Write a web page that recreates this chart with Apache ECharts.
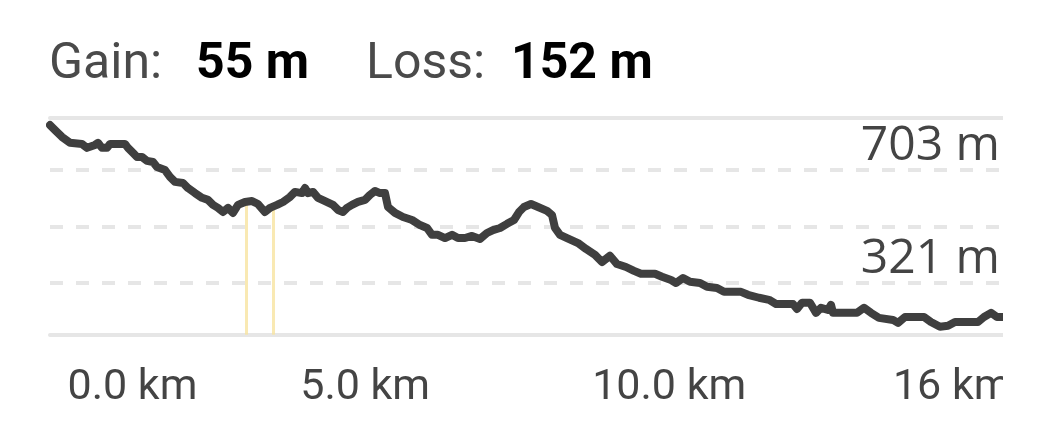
<!DOCTYPE html>
<html>
<head>
<meta charset="utf-8">
<script src="https://cdn.jsdelivr.net/npm/echarts@6/dist/echarts.min.js"></script>
<style>
html,body{margin:0;padding:0;background:#ffffff;}
#chart{width:1003px;height:440px;overflow:hidden;}
</style>
</head>
<body>
<div id="chart"></div>
<script>
// ---- data ----
const distanceKm = [0, 0.086, 0.205, 0.342, 0.547, 0.633, 0.667, 0.770, 0.821, 0.889, 0.975, 1.026, 1.283, 1.334, 1.420, 1.488, 1.574, 1.659, 1.762, 1.830, 1.967, 2.052, 2.138, 2.275, 2.360, 2.480, 2.600, 2.702, 2.788, 2.873, 2.959, 3.045, 3.130, 3.216, 3.335, 3.455, 3.558, 3.677, 3.763, 3.883, 3.985, 4.105, 4.190, 4.310, 4.362, 4.413, 4.498, 4.584, 4.704, 4.840, 4.926, 5.011, 5.080, 5.165, 5.268, 5.388, 5.473, 5.559, 5.644, 5.730, 5.781, 5.901, 6.038, 6.192, 6.328, 6.448, 6.534, 6.636, 6.756, 6.876, 6.978, 7.098, 7.218, 7.355, 7.474, 7.577, 7.697, 7.817, 7.936, 8.022, 8.107, 8.227, 8.347, 8.501, 8.586, 8.637, 8.723, 8.843, 9.031, 9.168, 9.322, 9.441, 9.578, 9.698, 9.852, 9.989, 10.108, 10.348, 10.468, 10.622, 10.707, 10.827, 10.947, 11.118, 11.237, 11.408, 11.528, 11.819, 11.939, 12.127, 12.298, 12.418, 12.708, 12.777, 12.862, 12.999, 13.102, 13.187, 13.307, 13.358, 13.392, 13.598, 13.803, 13.923, 14.042, 14.179, 14.419, 14.504, 14.624, 14.949, 15.068, 15.222, 15.359, 15.479, 15.872, 15.975, 16.095, 16.197, 16.300];
const elevationM = [855, 838, 815, 795, 791, 778, 781, 788, 795, 778, 778, 791, 791, 778, 761, 747, 747, 734, 730, 713, 703, 680, 663, 659, 642, 625, 609, 602, 585, 575, 561, 575, 558, 585, 595, 598, 588, 561, 575, 585, 595, 612, 629, 625, 642, 625, 629, 609, 598, 585, 568, 561, 575, 585, 595, 602, 619, 632, 625, 625, 578, 558, 544, 534, 517, 507, 484, 484, 473, 484, 473, 473, 480, 470, 490, 500, 507, 521, 534, 561, 578, 588, 578, 565, 551, 507, 484, 473, 456, 436, 416, 392, 413, 385, 375, 362, 352, 352, 342, 331, 321, 338, 325, 321, 308, 304, 291, 291, 281, 271, 264, 250, 250, 233, 254, 254, 220, 237, 230, 247, 220, 220, 220, 237, 220, 203, 196, 186, 206, 206, 189, 173, 176, 189, 189, 206, 220, 206, 206];
const markerKm = [3.35, 3.82];
const markerElevM = [595, 582];
const gainLabel = 'Gain:';
const gainValue = '55 m';
const lossLabel = 'Loss:';
const lossValue = '152 m';
const xTickLabels = ['0.0 km', '5.0 km', '10.0 km', '16 km'];
const yGridValues = [321, 512, 703];
const yLabelValues = [321, 703];

// ---- layout ----
const totalKm = distanceKm[distanceKm.length - 1];
const yMin = 146, yMax = 879;
const xLabelAt = [1.41, 5.39, 10.59, 15.43];
const grey = '#e6e6e6';

const chart = echarts.init(document.getElementById('chart'), null, {renderer: 'canvas'});
const titleStyle = (bold) => ({
  fontFamily: 'Roboto', fontSize: 50,
  fontWeight: bold ? 'bold' : 'normal',
  color: bold ? '#000000' : '#4a4a4a'
});
chart.setOption({
  animation: false,
  backgroundColor: '#ffffff',
  title: [
    {text: gainLabel, left: 49, top: 40, padding: 0, textStyle: titleStyle(false)},
    {text: gainValue, left: 196, top: 40, padding: 0, textStyle: titleStyle(true)},
    {text: lossLabel, left: 366, top: 40, padding: 0, textStyle: titleStyle(false)},
    {text: lossValue, left: 511, top: 40, padding: 0, textStyle: titleStyle(true)}
  ],
  grid: {left: 50, right: 0, top: 118, bottom: 105.3, containLabel: false, outerBoundsMode: 'none'},
  xAxis: [
    {
      type: 'value', min: 0, max: totalKm, position: 'bottom',
      axisLine: {show: true, lineStyle: {color: grey, width: 4}},
      axisTick: {show: false},
      splitLine: {show: false},
      axisLabel: {
        show: true, customValues: xLabelAt, margin: 32, hideOverlap: false,
        fontFamily: 'Roboto', fontSize: 43, color: '#444444',
        formatter: (v) => {
          const i = xLabelAt.indexOf(v);
          return i >= 0 ? xTickLabels[i] : '';
        }
      }
    },
    {
      type: 'value', min: 0, max: totalKm, position: 'top',
      axisLine: {show: true, lineStyle: {color: grey, width: 4}},
      axisTick: {show: false}, splitLine: {show: false}, axisLabel: {show: false}
    }
  ],
  yAxis: {
    type: 'value', min: yMin, max: yMax, position: 'right',
    axisLine: {show: false},
    axisTick: {show: false, customValues: yGridValues},
    splitLine: {show: true, lineStyle: {color: grey, width: 4, type: [13, 13]}},
    axisLabel: {
      show: true, inside: true, customValues: yLabelValues, margin: 3,
      verticalAlign: 'bottom',
      fontFamily: 'Open Sans', fontSize: 48, color: '#444444',
      formatter: (v) => v + ' m'
    }
  },
  series: [{
    type: 'line',
    data: distanceKm.map((d, i) => [d, elevationM[i]]),
    showSymbol: false, symbol: 'none', silent: true, z: 3,
    lineStyle: {color: '#3f3f3f', width: 8, join: 'round', cap: 'round'},
    markLine: {
      silent: true, symbol: 'none', z: 1,
      label: {show: false},
      lineStyle: {color: '#f8e3a0', width: 3, type: 'solid', opacity: 0.8},
      data: markerKm.map((k, i) => [{coord: [k, markerElevM[i]]}, {coord: [k, yMin]}])
    }
  }]
});
</script>
</body>
</html>
